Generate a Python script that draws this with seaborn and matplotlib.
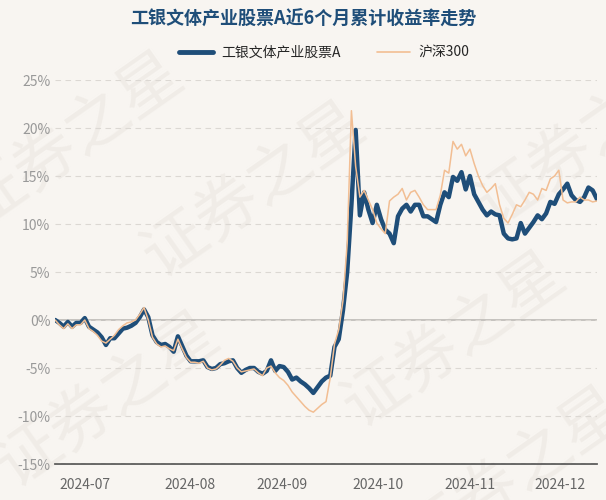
import pandas as pd, numpy as np
import matplotlib
matplotlib.use("Agg")
import matplotlib.pyplot as plt
import seaborn as sns
from matplotlib.lines import Line2D

fund_pre=[0,-0.3,-0.7,-0.2,-0.7,-0.3,-0.3,0.2,-0.7,-1.0,-1.3,-1.8,-2.6,-1.9,-1.9,-1.4,-0.9,-0.8,-0.6,-0.3,
          0.3,1.1,0.3,-1.6,-2.3,-2.6,-2.5,-2.8,-3.3,-1.7,-2.7,-3.7,-4.3,-4.3,-4.3,-4.2,-4.9,-5.1,-5.0,-4.6,
          -4.5,-4.3,-4.2,-5.0,-5.5,-5.2,-5.0,-5.0,-5.4,-5.6,-5.3,-4.2,-5.3,-4.8,-4.9,-5.4,-6.2,-6.0,-6.4,-6.7,
          -7.1,-7.6,-7.0,-6.4,-6.0,-5.8,-2.8,-2.0,1.0,5.0,12.0,19.8]
fund_post=[10.9,13.3,11.5,10.1,12.0,10.5,9.4,9.0,8.0,10.8,11.6,12.0,11.3,12.0,12.0,10.8,10.8,10.5,10.2,12.0,
           13.3,12.8,14.9,14.5,15.4,13.6,15.0,13.1,12.3,11.5,10.9,11.3,11.0,10.9,9.0,8.5,8.4,8.5,10.1,9.0,
           9.6,10.2,10.9,10.5,11.1,12.3,12.1,13.1,13.6,14.2,13.0,12.5,12.3,12.8,13.8,13.5,12.6]
hs_pre=[0,-0.5,-0.9,-0.4,-0.9,-0.5,-0.5,0.0,-0.9,-1.2,-1.6,-2.2,-2.4,-2.0,-1.6,-1.0,-0.6,-0.3,-0.2,0.0,
        0.6,1.3,0.0,-1.8,-2.5,-2.8,-2.7,-3.0,-3.2,-2.0,-3.0,-3.9,-4.4,-4.4,-4.5,-4.3,-5.0,-5.2,-5.1,-4.7,
        -4.2,-4.0,-4.3,-5.0,-5.4,-5.3,-5.2,-5.1,-5.5,-5.8,-5.0,-4.8,-5.5,-6.0,-6.3,-6.8,-7.5,-8.0,-8.5,-9.0,
        -9.4,-9.6,-9.2,-8.8,-8.5,-6.0,-2.5,-1.0,2.0,8.0,21.8,16.0]
hs_post=[12.8,13.5,12.5,11.5,10.1,9.5,9.0,12.4,12.8,13.1,13.7,12.5,13.3,13.5,12.8,12.0,11.5,11.5,11.5,13.0,
         15.6,15.3,18.6,17.8,18.3,17.1,17.8,16.3,15.0,14.0,13.3,13.7,14.2,12.0,10.6,10.1,11.0,12.0,11.8,12.5,
         13.3,13.1,12.5,13.7,13.5,14.7,15.0,15.6,12.5,12.2,12.3,12.3,12.8,12.5,12.5,12.3,12.4]
tick_labels=["2024-07","2024-08","2024-09","2024-10","2024-11","2024-12"]
tick_pos=[7.1,31.9,53.6,76.3,98.0,119.3]
names=["工银文体产业股票A","沪深300"]

fund=fund_pre+fund_post
hs=hs_pre+hs_post
n=min(len(fund),len(hs))
df=pd.DataFrame({"day":list(range(n))*2,"v":fund[:n]+hs[:n],"s":[names[0]]*n+[names[1]]*n})

sns.set_theme(style="white")
plt.rcParams['font.family']=['Noto Sans CJK SC','DejaVu Sans']
bg="#f8f5f1"
fig=plt.figure(figsize=(6.06,5.0),dpi=100,facecolor=bg)
ax=fig.add_axes([0.091,0.072,0.894,0.768])
ax.set_facecolor("none")
for x,y in [(0.12,0.72),(0.42,0.62),(0.75,0.32),(0.97,0.72),(0.18,0.2),(0.85,0.05)]:
    ax.text(x,y,"证券之星",fontsize=46,color="#f0ece7",rotation=35,ha="center",va="center",
            zorder=0,transform=fig.transFigure,clip_on=False)
ax.axhline(0,color="#bdbab6",lw=1.2,zorder=1)
sns.lineplot(data=df,x="day",y="v",hue="s",palette={names[0]:"#1f4e79",names[1]:"#f2be93"},
             size="s",sizes={names[0]:3.2,names[1]:1.1},ax=ax,legend=False,zorder=3)
ax.set_ylim(-15,25); ax.set_yticks(range(-15,26,5))
ax.set_yticklabels([f"{t}%" for t in range(-15,26,5)],color="#999999",fontsize=10)
ax.set_xlim(0,n-1)
ax.set_xticks(tick_pos); ax.set_xticklabels(tick_labels,color="#666666",fontsize=10)
ax.set_xlabel(""); ax.set_ylabel("")
ax.grid(axis="y",color="#dcd8d3",lw=0.8,ls=(0,(5,4)))
ax.set_axisbelow(False)
for s in ["top","right","left"]: ax.spines[s].set_visible(False)
ax.spines["bottom"].set_color("#555555")
ax.tick_params(axis="x",length=4,color="#555555",pad=6)
ax.tick_params(axis="y",length=0)
h=[Line2D([],[],color="#1f4e79",lw=3.5),Line2D([],[],color="#f2be93",lw=1.2)]
fig.legend(h,names,loc="center",bbox_to_anchor=(0.535,0.895),ncol=2,frameon=False,fontsize=10,
           handlelength=2.4,columnspacing=2.6,handletextpad=0.6)
fig.text(0.5,0.962,"工银文体产业股票A近6个月累计收益率走势",ha="center",va="center",fontsize=13,fontweight="bold",color="#1f4e79")
fig.savefig("out.png",dpi=100,facecolor=bg)
